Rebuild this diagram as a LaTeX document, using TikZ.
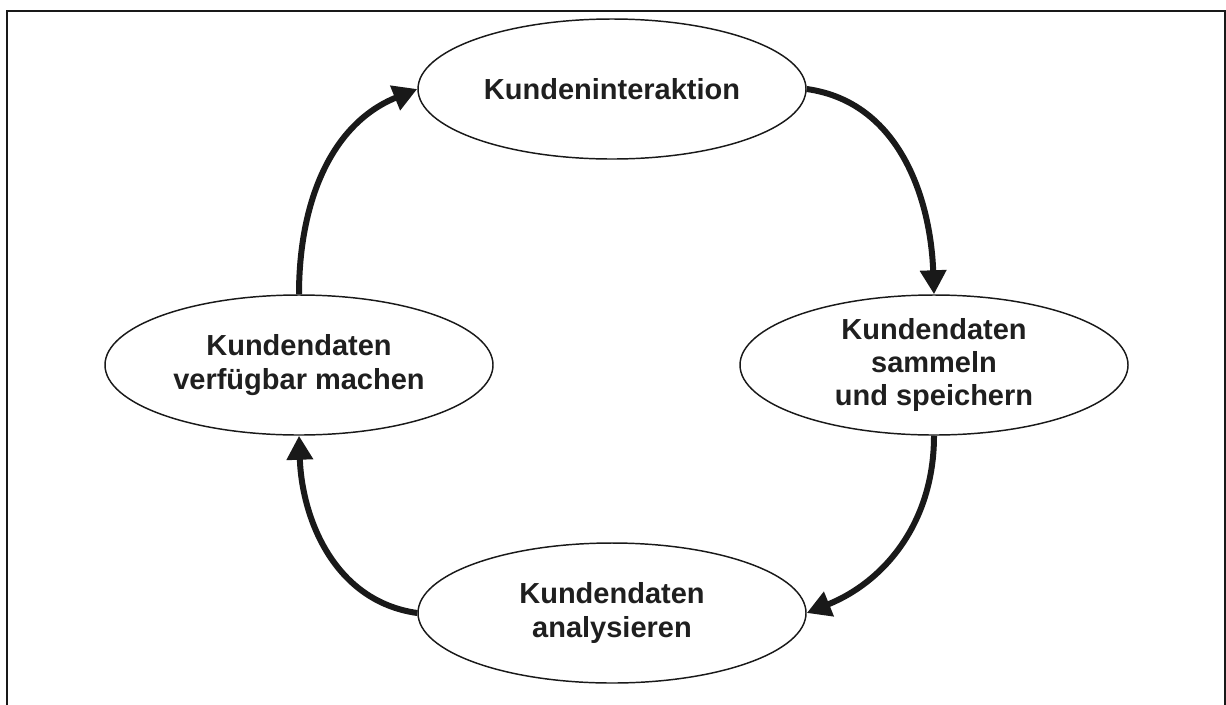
\documentclass[tikz,border=0pt]{standalone}
\usepackage{fontspec}
\setmainfont{Liberation Sans}
\usetikzlibrary{shapes.geometric,arrows.meta}
\begin{document}
\begin{tikzpicture}[x=0.75pt,y=-0.75pt,
  phase/.style={draw=black!90, line width=1.1pt, ellipse, inner sep=0pt,
    minimum width=291pt, minimum height=105pt, align=center,
    font=\fontsize{21.75}{25}\selectfont\bfseries, text=black!88},
  flow/.style={draw=black!90, line width=4.5pt,
    -{Triangle[length=18pt,width=19pt]}}]
\useasboundingbox (0,0) rectangle (1226,704);
\begin{scope}
  \clip (0,0) rectangle (1226,704);
  \draw[black!90, line width=2pt] (7,11) rectangle (1225,730);
\end{scope}

\node[phase] (t) at (612,89) {Kundeninteraktion};
\node[phase] (r) at (934,365) {Kundendaten\\sammeln\\und speichern};
\node[phase] (b) at (612,613) {Kundendaten\\analysieren};
\node[phase] (l) at (299,365) {Kundendaten\\verfügbar machen};

\draw[flow] (t.east) to[out=-8, in=92] (r.north);
\draw[flow] (r.south) to[out=-90, in=22] (b.east);
\draw[flow] (b.west) to[out=172, in=-88] (l.south);
\draw[flow] (l.north) to[out=90, in=202] (t.west);
\end{tikzpicture}
\end{document}
